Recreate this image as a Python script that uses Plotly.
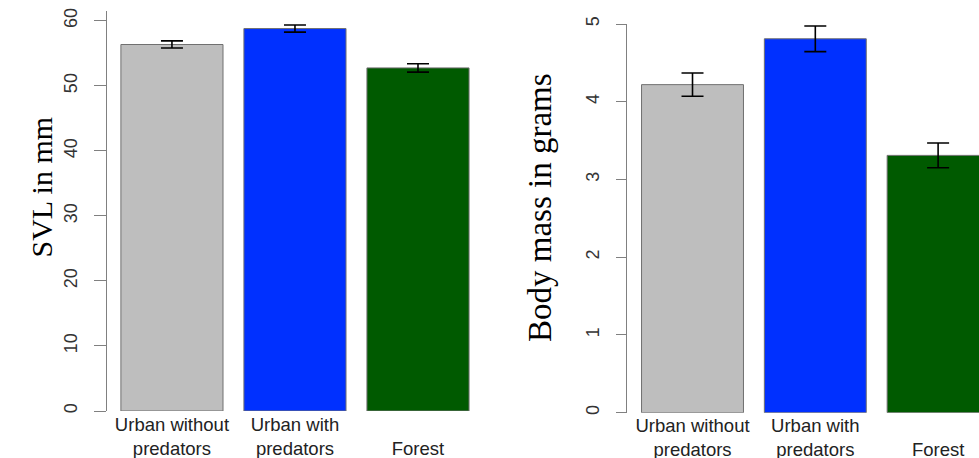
import plotly.graph_objects as go

categories = ["Urban without<br>predators", "Urban with<br>predators", "\u00a0<br>Forest"]
svl_mean = [56.35, 58.8, 52.75]
svl_se = [0.55, 0.55, 0.65]
mass_mean = [4.22, 4.81, 3.31]
mass_se = [0.15, 0.165, 0.16]
bar_colors = ["#BEBEBE", "#0030FF", "#005A00"]
svl_ticks = [0, 10, 20, 30, 40, 50, 60]
mass_ticks = [0, 1, 2, 3, 4, 5]

W, H = 979, 458
xpos = list(range(len(categories)))

fig = go.Figure()

def add_panel(xa, ya, means, ses):
    fig.add_trace(go.Bar(
        x=xpos, y=means, width=0.83,
        marker=dict(color=bar_colors, line=dict(color="#707070", width=1)),
        error_y=dict(type="data", array=ses, visible=True, color="black",
                     thickness=1.6, width=11),
        xaxis=xa, yaxis=ya, showlegend=False, hoverinfo="skip"))

add_panel("x", "y", svl_mean, svl_se)
add_panel("x2", "y2", mass_mean, mass_se)

tickfont = dict(family="Liberation Sans, Arial, sans-serif", size=18, color="#333333")
catfont = dict(family="Liberation Sans, Arial, sans-serif", size=18.5, color="#222222")

def fx(px):
    return px / W

def fy(py):
    return (H - py) / H

xcommon = dict(tickmode="array", tickvals=xpos, ticktext=categories, showline=False,
               showgrid=False, zeroline=False, ticks="", tickfont=catfont, tickangle=0,
               automargin=False)
ycommon = dict(showline=True, linecolor="#808080", linewidth=1.2, ticks="outside",
               tickcolor="#808080", tickwidth=1.2, showgrid=False, zeroline=False,
               tickangle=-90, tickfont=tickfont, tickmode="array", automargin=False)

fig.update_layout(
    width=W, height=H, margin=dict(l=0, r=0, t=0, b=0),
    paper_bgcolor="white", plot_bgcolor="white",
    xaxis=dict(domain=[fx(107), fx(479.5)], range=[-0.528, 2.5], anchor="y", **xcommon),
    yaxis=dict(domain=[fy(411), fy(11)], range=[0, 61.5], anchor="x",
               tickvals=svl_ticks, ticklen=12, ticklabelstandoff=10, **ycommon),
    xaxis2=dict(domain=[fx(627.3), 1.0], range=[-0.531, 2.333], anchor="y2", **xcommon),
    yaxis2=dict(domain=[fy(412.7), fy(24)], range=[0, 5], anchor="x2",
                tickvals=mass_ticks, ticklen=10.5, ticklabelstandoff=10, **ycommon),
    annotations=[
        dict(text="SVL in mm", x=fx(22), y=fy(187), xref="paper", yref="paper",
             showarrow=False, textangle=-90,
             font=dict(family="Liberation Serif, Times New Roman, serif", size=30, color="black")),
        dict(text="Body mass in grams", x=fx(540), y=fy(208), xref="paper", yref="paper",
             showarrow=False, textangle=-90,
             font=dict(family="Liberation Serif, Times New Roman, serif", size=33, color="black")),
    ],
)

fig.write_html("out.html", config={"displayModeBar": False},
               post_script="document.body.style.margin='0';document.body.style.overflow='hidden';")
